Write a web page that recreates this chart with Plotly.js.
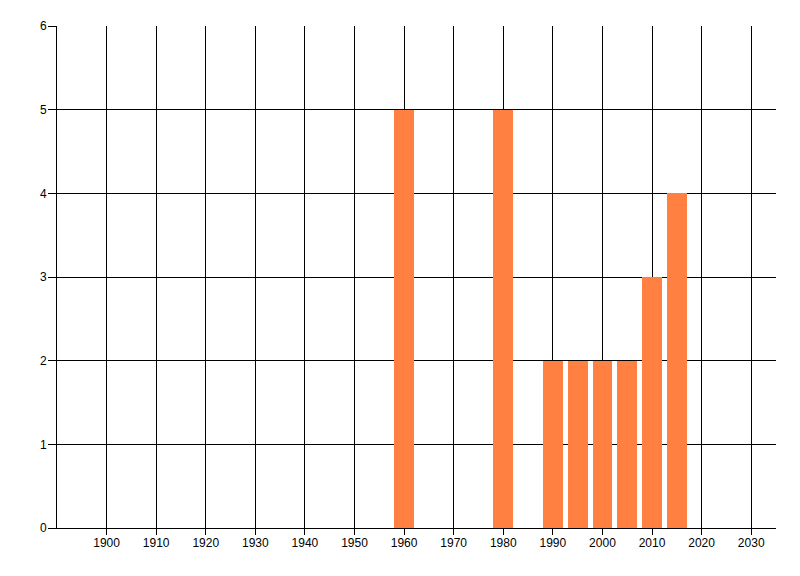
<!DOCTYPE html>
<html>
<head>
<meta charset="utf-8">
<script src="https://cdn.plot.ly/plotly-3.0.1.min.js"></script>
<style>html,body{margin:0;padding:0;background:#fff;}#chart{width:800px;height:576px;}</style>
</head>
<body>
<div id="chart"></div>
<script>
var years = [1960, 1980, 1990, 1995, 2000, 2005, 2010, 2015];
var counts = [5, 5, 2, 2, 2, 2, 3, 4];
var xTickVals = [1900, 1910, 1920, 1930, 1940, 1950, 1960, 1970, 1980, 1990, 2000, 2010, 2020, 2030];
var yTickVals = [0, 1, 2, 3, 4, 5, 6];

var trace = {
  type: 'bar',
  x: years,
  y: counts,
  width: 4,
  marker: {color: '#FF8040', line: {width: 0}},
  hoverinfo: 'x+y'
};

var layout = {
  width: 800,
  height: 576,
  margin: {l: 57, r: 24, t: 26, b: 48},
  paper_bgcolor: '#ffffff',
  plot_bgcolor: '#ffffff',
  showlegend: false,
  font: {family: 'Liberation Sans, Arial, sans-serif', size: 12, color: '#000000'},
  xaxis: {
    range: [1890, 2035],
    tickmode: 'array',
    tickvals: xTickVals,
    ticktext: xTickVals.map(String),
    showgrid: true,
    gridcolor: '#000000',
    gridwidth: 1,
    zeroline: false,
    showline: true,
    linecolor: '#000000',
    linewidth: 1,
    ticks: 'outside',
    ticklen: 6,
    tickcolor: '#000000',
    ticklabelstandoff: -2,
    tickfont: {size: 12, color: '#000000'},
    fixedrange: true
  },
  yaxis: {
    range: [0, 6],
    tickmode: 'array',
    tickvals: yTickVals,
    ticktext: yTickVals.map(String),
    showgrid: true,
    gridcolor: '#000000',
    gridwidth: 1,
    zeroline: false,
    showline: true,
    linecolor: '#000000',
    linewidth: 1,
    ticks: 'outside',
    ticklen: 8,
    tickcolor: '#000000',
    ticklabelstandoff: -1,
    tickfont: {size: 12, color: '#000000'},
    fixedrange: true
  },
  bargap: 0
};

Plotly.newPlot('chart', [trace], layout, {displayModeBar: false, staticPlot: true});
</script>
</body>
</html>
